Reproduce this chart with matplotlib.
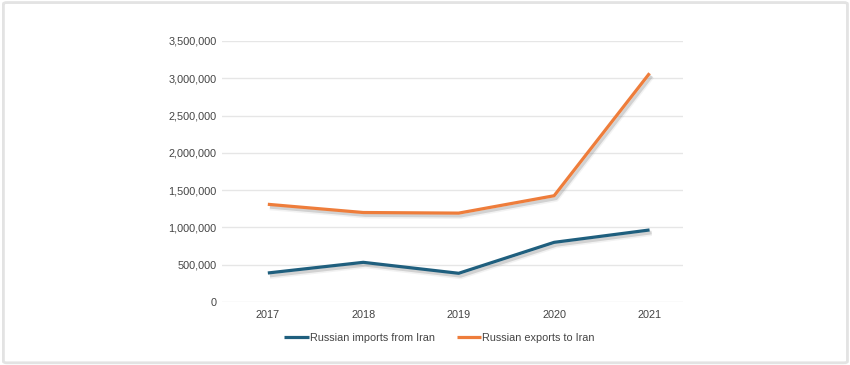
import matplotlib.pyplot as plt
import matplotlib.patheffects as pe
from matplotlib.patches import FancyBboxPatch
from matplotlib.ticker import FuncFormatter

plt.rcParams['font.family'] = ['Liberation Sans', 'DejaVu Sans']

years = ['2017', '2018', '2019', '2020', '2021']
imports_from_iran = [389000, 532000, 385000, 800000, 966000]
exports_to_iran = [1310000, 1200000, 1192000, 1425000, 3067000]

fig = plt.figure(figsize=(8.5, 3.65), dpi=100)
fig.patch.set_facecolor('white')

# light frame round the whole picture
frame = FancyBboxPatch((0.004, 0.006), 0.993, 0.987, boxstyle='round,pad=0,rounding_size=0.004',
                       transform=fig.transFigure, facecolor='none', edgecolor='#e3e3e3', linewidth=2)
fig.patches.append(frame)

ax = fig.add_axes([0.2612, 0.1726, 0.5423, 0.7151])
x = range(len(years))

# soft drop shadow under the lines
shadow = [pe.Stroke(linewidth=4.2, foreground='#999999', alpha=0.12, offset=(1.5, -2.2)),
          pe.SimpleLineShadow(offset=(1.5, -2), shadow_color='#888888', alpha=0.3),
          pe.Normal()]
ax.plot(x, imports_from_iran, color='#1f5f7e', linewidth=2.3, label='Russian imports from Iran',
        path_effects=shadow, solid_capstyle='butt', zorder=3)
ax.plot(x, exports_to_iran, color='#ee7d3b', linewidth=2.3, label='Russian exports to Iran',
        path_effects=shadow, solid_capstyle='butt', zorder=3)

ax.set_ylim(0, 3500000)
ax.set_yticks(range(0, 3500001, 500000))
ax.yaxis.set_major_formatter(FuncFormatter(lambda v, p: f'{int(v):,}'))
ax.set_xlim(-0.48, 4.35)
ax.set_xticks(list(x))
ax.set_xticklabels(years)

ax.grid(axis='y', color='#e6e6e6', linewidth=1)
ax.set_axisbelow(True)
for s in ax.spines.values():
    s.set_visible(False)
ax.tick_params(length=0, labelsize=7.8, labelcolor='#444444')
ax.tick_params(axis='y', pad=4)
ax.tick_params(axis='x', pad=6)

leg = fig.legend(loc='center', bbox_to_anchor=(0.517, 0.074), ncol=2, frameon=False,
                 fontsize=7.8, handlelength=2.3, handletextpad=0.05, columnspacing=2.0)
for t in leg.get_texts():
    t.set_color('#444444')
for h in leg.get_lines():
    h.set_path_effects([])

fig.savefig('out.png', dpi=100)
